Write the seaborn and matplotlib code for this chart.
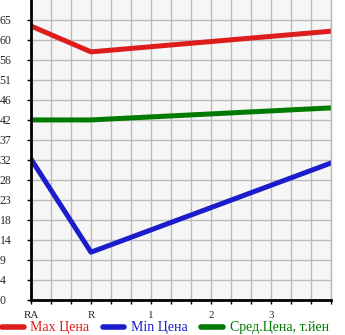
import matplotlib
matplotlib.use("Agg")
import matplotlib.pyplot as plt
import seaborn as sns
import pandas as pd
import numpy as np
from matplotlib.lines import Line2D

# Data
x_labels = ["RA", "R", "1", "2", "3"]
x_pos = [0, 1, 5]
max_price = [63.6, 57.6, 62.4]
min_price = [32.7, 11.1, 31.8]
avg_price = [41.8, 41.8, 44.6]
y_tick_labels = ["0", "4", "9", "14", "18", "23", "28", "32", "37", "42", "46", "51", "56", "60", "65"]
series_names = ["Max Цена", "Min Цена", "Сред.Цена, т.йен"]
colors = ["#dd1c1c", "#1c1ccc", "#007a00"]

df = pd.DataFrame({
    "x": x_pos * 3,
    "price": max_price + min_price + avg_price,
    "series": [series_names[0]] * 3 + [series_names[1]] * 3 + [series_names[2]] * 3,
})

sns.set_style("white")
plt.rcParams['font.family'] = ['Liberation Serif', 'DejaVu Serif']

fig = plt.figure(figsize=(3.45, 3.35), dpi=100)
ax = fig.add_axes([31/345, 35/335, 300/345, 300/335])
ax.set_facecolor("#f6f6f6")

step = 65 / 14
ax.set_ylim(0, step * 15)
ax.set_xlim(0, 5)

ax.set_yticks([i * step for i in range(15)])
ax.set_yticklabels(y_tick_labels)
ax.set_xticks(range(5))
ax.set_xticklabels(x_labels)
ax.set_xticks(np.arange(0, 5.01, 1/3), minor=True)

ax.grid(True, which="both", axis="x", color="#bbbbbb", linewidth=1.0)
ax.grid(True, which="major", axis="y", color="#bbbbbb", linewidth=1.0)
ax.set_axisbelow(True)

sns.lineplot(data=df, x="x", y="price", hue="series", palette=colors,
             hue_order=series_names, linewidth=3.6, legend=False, ax=ax,
             solid_capstyle="round")

ax.spines["top"].set_visible(False)
ax.spines["right"].set_color("#bbbbbb")
ax.spines["right"].set_linewidth(1.0)
ax.spines["left"].set_color("black")
ax.spines["left"].set_linewidth(2)
ax.spines["bottom"].set_color("black")
ax.spines["bottom"].set_linewidth(2)

ax.tick_params(axis="y", which="major", length=3, width=1, color="black",
               pad=19.5, labelsize=8.5, left=True)
for lbl in ax.get_yticklabels():
    lbl.set_horizontalalignment("left")
    lbl.set_verticalalignment("center_baseline")
ax.tick_params(axis="x", which="both", length=3, width=1, color="black",
               labelsize=8, pad=5, bottom=True)
ax.set_xlabel("")
ax.set_ylabel("")

handles = [Line2D([0], [0], color=c, lw=4, solid_capstyle="round") for c in colors]
leg = fig.legend(handles, series_names, loc="center left", bbox_to_anchor=(2/345, 7/335),
                 ncol=3, frameon=False, fontsize=10, handlelength=1.55, handletextpad=0.5,
                 columnspacing=0.95, borderaxespad=0, borderpad=0)
for t, c in zip(leg.get_texts(), colors):
    t.set_color(c)

fig.savefig("out.png", dpi=100)
